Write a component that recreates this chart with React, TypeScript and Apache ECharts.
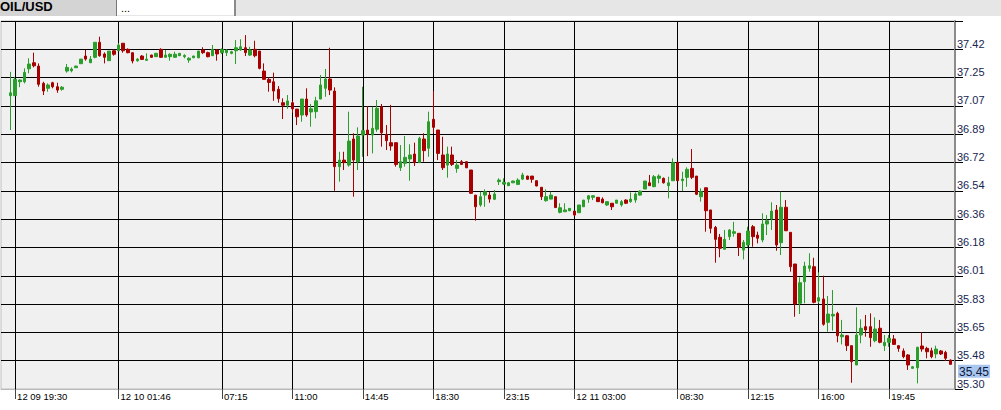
import { useEffect, useRef } from 'react';
import * as echarts from 'echarts';

const symbolName = 'OIL/USD';
const secondTab = '...';

// 15-minute candles: [open, close, low, high]
const candles: number[][] = [
  [37.134, 37.152, 36.919, 37.283], [37.134, 37.236, 37.134, 37.252], [37.221, 37.232, 37.187, 37.236],
  [37.221, 37.280, 37.211, 37.305], [37.302, 37.332, 37.274, 37.368], [37.340, 37.321, 37.311, 37.403],
  [37.319, 37.205, 37.190, 37.336], [37.211, 37.163, 37.138, 37.221], [37.180, 37.201, 37.159, 37.211],
  [37.215, 37.190, 37.180, 37.221], [37.190, 37.169, 37.152, 37.215], [37.174, 37.187, 37.165, 37.194],
  [37.288, 37.311, 37.278, 37.332], [37.290, 37.301, 37.280, 37.311], [37.309, 37.319, 37.307, 37.322],
  [37.334, 37.363, 37.334, 37.363], [37.382, 37.363, 37.353, 37.420], [37.340, 37.363, 37.340, 37.382],
  [37.374, 37.468, 37.368, 37.468], [37.468, 37.384, 37.378, 37.503], [37.395, 37.374, 37.336, 37.405],
  [37.353, 37.413, 37.353, 37.413], [37.415, 37.393, 37.384, 37.424], [37.415, 37.451, 37.415, 37.462],
  [37.462, 37.415, 37.403, 37.462], [37.424, 37.403, 37.399, 37.430], [37.403, 37.351, 37.336, 37.403],
  [37.353, 37.363, 37.346, 37.368], [37.382, 37.361, 37.357, 37.388], [37.355, 37.363, 37.353, 37.399],
  [37.388, 37.374, 37.371, 37.390], [37.378, 37.399, 37.376, 37.401], [37.424, 37.374, 37.370, 37.430],
  [37.374, 37.388, 37.374, 37.420], [37.378, 37.393, 37.353, 37.399], [37.374, 37.393, 37.371, 37.409],
  [37.384, 37.399, 37.382, 37.401], [37.378, 37.386, 37.368, 37.393], [37.357, 37.368, 37.340, 37.374],
  [37.371, 37.382, 37.370, 37.384], [37.371, 37.413, 37.368, 37.415], [37.420, 37.403, 37.395, 37.437],
  [37.403, 37.378, 37.374, 37.409], [37.384, 37.424, 37.384, 37.451], [37.420, 37.395, 37.353, 37.424],
  [37.403, 37.424, 37.395, 37.430], [37.403, 37.420, 37.382, 37.424], [37.399, 37.409, 37.393, 37.415],
  [37.415, 37.434, 37.332, 37.482], [37.420, 37.440, 37.415, 37.487], [37.434, 37.403, 37.382, 37.513],
  [37.388, 37.420, 37.382, 37.440], [37.424, 37.384, 37.374, 37.478], [37.413, 37.305, 37.299, 37.413],
  [37.288, 37.236, 37.232, 37.336], [37.236, 37.217, 37.159, 37.249], [37.221, 37.163, 37.102, 37.278],
  [37.174, 37.115, 37.090, 37.194], [37.090, 37.074, 36.988, 37.117], [37.074, 37.101, 37.052, 37.138],
  [37.090, 37.052, 37.027, 37.101], [37.050, 37.002, 36.950, 37.050], [37.013, 37.113, 36.971, 37.113],
  [37.113, 37.013, 37.002, 37.180], [37.032, 37.052, 36.940, 37.082], [37.034, 37.102, 36.992, 37.127],
  [37.113, 37.201, 37.113, 37.263], [37.180, 37.238, 37.127, 37.301], [37.238, 37.169, 37.138, 37.434],
  [37.163, 36.690, 36.539, 37.186], [36.690, 36.731, 36.596, 36.783], [36.731, 36.715, 36.669, 36.783],
  [36.700, 36.850, 36.690, 37.034], [36.863, 36.731, 36.502, 36.899], [36.721, 36.882, 36.669, 36.936],
  [36.888, 36.915, 36.752, 37.190], [36.919, 36.892, 36.756, 37.069], [36.888, 36.930, 36.773, 37.065],
  [36.924, 37.055, 36.908, 37.107], [37.065, 36.902, 36.815, 37.082], [36.892, 36.852, 36.794, 36.950],
  [36.840, 36.819, 36.790, 37.076], [36.840, 36.704, 36.690, 36.840], [36.683, 36.721, 36.663, 36.825],
  [36.711, 36.748, 36.690, 36.882], [36.738, 36.763, 36.602, 36.830], [36.769, 36.715, 36.694, 36.840],
  [36.715, 36.867, 36.715, 36.877], [36.863, 36.790, 36.721, 36.899], [36.805, 36.971, 36.752, 37.034],
  [36.986, 36.936, 36.899, 37.163], [36.919, 36.773, 36.731, 36.919], [36.763, 36.683, 36.669, 36.877],
  [36.700, 36.769, 36.621, 36.815], [36.763, 36.704, 36.694, 36.815], [36.679, 36.700, 36.652, 36.731],
  [36.721, 36.704, 36.700, 36.731], [36.721, 36.683, 36.681, 36.721], [36.669, 36.523, 36.520, 36.669],
  [36.512, 36.439, 36.352, 36.512], [36.450, 36.502, 36.439, 36.533], [36.512, 36.533, 36.439, 36.548],
  [36.512, 36.487, 36.464, 36.533], [36.486, 36.519, 36.481, 36.544], [36.596, 36.606, 36.575, 36.617],
  [36.581, 36.592, 36.575, 36.617], [36.571, 36.589, 36.569, 36.594], [36.589, 36.600, 36.587, 36.603],
  [36.579, 36.606, 36.575, 36.617], [36.612, 36.638, 36.606, 36.652], [36.631, 36.611, 36.609, 36.633],
  [36.631, 36.611, 36.589, 36.631], [36.602, 36.569, 36.567, 36.603], [36.561, 36.502, 36.481, 36.561],
  [36.477, 36.502, 36.471, 36.548], [36.487, 36.512, 36.486, 36.533], [36.502, 36.434, 36.431, 36.502],
  [36.404, 36.433, 36.398, 36.461], [36.408, 36.419, 36.408, 36.461], [36.414, 36.429, 36.412, 36.431],
  [36.412, 36.387, 36.381, 36.412], [36.402, 36.450, 36.402, 36.450], [36.439, 36.481, 36.439, 36.481],
  [36.487, 36.508, 36.464, 36.512], [36.498, 36.508, 36.481, 36.512], [36.498, 36.471, 36.469, 36.500],
  [36.487, 36.464, 36.461, 36.498], [36.450, 36.471, 36.444, 36.471], [36.461, 36.439, 36.419, 36.461],
  [36.461, 36.481, 36.461, 36.481], [36.450, 36.471, 36.439, 36.481], [36.481, 36.461, 36.456, 36.486],
  [36.471, 36.487, 36.464, 36.529], [36.481, 36.519, 36.464, 36.529], [36.512, 36.537, 36.509, 36.541],
  [36.550, 36.600, 36.550, 36.600], [36.589, 36.571, 36.571, 36.638], [36.565, 36.627, 36.561, 36.638],
  [36.617, 36.631, 36.586, 36.642], [36.617, 36.589, 36.584, 36.622], [36.571, 36.589, 36.492, 36.627],
  [36.602, 36.715, 36.602, 36.742], [36.717, 36.602, 36.602, 36.717], [36.602, 36.612, 36.537, 36.658],
  [36.623, 36.673, 36.564, 36.686], [36.679, 36.623, 36.612, 36.800], [36.631, 36.517, 36.512, 36.631],
  [36.502, 36.533, 36.471, 36.554], [36.558, 36.414, 36.283, 36.558], [36.419, 36.304, 36.273, 36.419],
  [36.310, 36.235, 36.089, 36.319], [36.248, 36.179, 36.123, 36.269], [36.173, 36.235, 36.173, 36.294],
  [36.252, 36.294, 36.231, 36.298], [36.273, 36.283, 36.252, 36.345], [36.273, 36.185, 36.131, 36.273],
  [36.168, 36.217, 36.110, 36.231], [36.200, 36.287, 36.189, 36.314], [36.314, 36.252, 36.189, 36.325],
  [36.262, 36.242, 36.210, 36.283], [36.231, 36.331, 36.217, 36.398], [36.331, 36.352, 36.262, 36.387],
  [36.362, 36.412, 36.294, 36.467], [36.419, 36.200, 36.164, 36.450], [36.214, 36.436, 36.137, 36.533],
  [36.436, 36.289, 36.287, 36.481], [36.279, 36.064, 36.033, 36.279], [36.081, 35.831, 35.751, 36.081],
  [35.835, 35.964, 35.768, 35.998], [35.970, 36.068, 35.835, 36.095], [36.054, 36.070, 36.033, 36.148],
  [36.064, 35.841, 35.835, 36.120], [35.849, 35.870, 35.835, 36.029], [35.862, 35.704, 35.695, 36.008],
  [35.716, 35.768, 35.657, 35.881], [35.756, 35.766, 35.664, 35.918], [35.772, 35.632, 35.591, 35.782],
  [35.626, 35.637, 35.578, 35.731], [35.632, 35.570, 35.537, 35.637], [35.570, 35.470, 35.338, 35.570],
  [35.449, 35.637, 35.449, 35.810], [35.637, 35.679, 35.585, 35.735], [35.689, 35.668, 35.626, 35.762],
  [35.689, 35.620, 35.563, 35.772], [35.601, 35.674, 35.591, 35.747], [35.679, 35.591, 35.585, 35.731],
  [35.570, 35.591, 35.537, 35.637], [35.591, 35.616, 35.563, 35.637], [35.612, 35.578, 35.574, 35.637],
  [35.570, 35.553, 35.532, 35.572], [35.537, 35.501, 35.491, 35.553], [35.512, 35.449, 35.418, 35.516],
  [35.428, 35.438, 35.424, 35.443], [35.432, 35.560, 35.334, 35.563], [35.568, 35.549, 35.532, 35.653],
  [35.553, 35.532, 35.491, 35.563], [35.538, 35.501, 35.491, 35.557], [35.518, 35.549, 35.491, 35.570],
  [35.537, 35.518, 35.512, 35.543], [35.528, 35.491, 35.474, 35.538], [35.480, 35.453, 35.451, 35.483],
];

// time labels and the candle (1-based) each one sits on
const tickLabels = ['12 09 19:30', '12 10 01:46', '07:15', '11:00', '14:45', '18:30', '23:15', '12 11 03:00', '08:30', '12:15', '16:00', '19:45'];
const tickCandles = [2, 24, 46, 61, 76, 91, 106, 121, 143, 158, 173, 188];

// price axis
const priceMin = 35.2989;
const priceStep = 0.1771;
const priceSteps = 13;

const LEAD = 2;
const TRAIL = 1;

const FONT = 'Liberation Sans, Arial, sans-serif';

export default function App() {
  const ref = useRef<HTMLDivElement>(null);

  useEffect(() => {
    if (!ref.current) return;
    const chart = echarts.init(ref.current, undefined, { renderer: 'svg' });

    const priceMax = priceMin + priceSteps * priceStep;
    const empty = ['-', '-', '-', '-'];
    const seriesData: any[] = [];
    const categories: string[] = [];
    for (let i = 0; i < LEAD; i++) { seriesData.push(empty); categories.push('p' + i); }
    candles.forEach((c, i) => { seriesData.push(c); categories.push('c' + (i + 1)); });
    for (let i = 0; i < TRAIL; i++) { seriesData.push(empty); categories.push('t' + i); }

    const labelAt = new Map<number, string>();
    tickCandles.forEach((c, i) => labelAt.set(c - 1 + LEAD, tickLabels[i]));
    const isTick = (index: number) => labelAt.has(index);

    const lastClose = candles[candles.length - 1][1];

    const option: any = {
      animation: false,
      backgroundColor: '#ffffff',
      graphic: [
        { type: 'rect', left: 0, top: 0, shape: { width: 1001, height: 16 }, style: { fill: '#e6e6e6' } },
        { type: 'rect', left: 0, top: 0, shape: { width: 116, height: 16 }, style: { fill: '#d4d4d4' } },
        { type: 'rect', left: 117, top: 0, shape: { width: 118, height: 15 }, style: { fill: '#ffffff' } },
        { type: 'rect', left: 116, top: 0, shape: { width: 1, height: 16 }, style: { fill: '#777777' } },
        { type: 'rect', left: 234, top: 0, shape: { width: 2, height: 16 }, style: { fill: '#8a8a8a' } },
        {
          type: 'text', left: 0, top: 0,
          style: { text: symbolName, font: 'bold 13px ' + FONT, fill: '#000000' },
        },
        {
          type: 'text', left: 121, top: 2,
          style: { text: secondTab, font: '11px ' + FONT, fill: '#000000' },
        },
      ],
      grid: {
        left: 1, right: 46, top: 21, bottom: 21,
        show: true, backgroundColor: '#f0f0f0', borderColor: '#bdbdbd', borderWidth: 1,
      },
      xAxis: {
        type: 'category',
        data: categories,
        boundaryGap: false,
        axisLine: { show: true, lineStyle: { color: '#b8b8b8', width: 1 } },
        axisTick: { show: true, interval: isTick, length: 10, lineStyle: { color: '#444444' } },
        axisLabel: {
          interval: isTick,
          formatter: (_v: string, i: number) => labelAt.get(i) || '',
          align: 'left', margin: 2, padding: [0, 0, 0, 2],
          color: '#000000', fontSize: 9.5, fontFamily: FONT,
        },
        splitLine: { show: true, interval: isTick, lineStyle: { color: '#000000', width: 1 } },
      },
      yAxis: {
        type: 'value',
        position: 'right',
        min: priceMin, max: priceMax, interval: priceStep,
        axisLine: { show: true, lineStyle: { color: '#8c8c8c', width: 2 } },
        axisTick: { show: true, length: 8, lineStyle: { color: '#000000' } },
        axisLabel: {
          margin: 2, color: '#172650', fontSize: 11, fontFamily: FONT, verticalAlign: 'bottom',
          showMaxLabel: false,
          formatter: (v: number) => (v > priceMax - priceStep / 2 ? '' : v.toFixed(2)),
        },
        splitLine: { show: true, showMaxLine: false, lineStyle: { color: '#000000', width: 1 } },
      },
      series: [
        {
          type: 'candlestick',
          data: seriesData,
          barWidth: 3,
          clip: false,
          itemStyle: {
            color: '#2a9e2a', color0: '#a80000',
            borderColor: '#2a9e2a', borderColor0: '#a80000', borderWidth: 1,
          },
          markLine: {
            silent: true,
            symbol: 'none',
            lineStyle: { color: 'rgba(0,0,0,0)', width: 1, type: 'solid' },
            label: {
              show: true, position: 'end', distance: 3, verticalAlign: 'top', align: 'left',
              formatter: () => lastClose.toFixed(2),
              backgroundColor: '#a9c6ef', color: '#0c1a40', fontSize: 12, fontFamily: FONT,
              padding: [1, 1, 0, 1],
            },
            data: [{ yAxis: lastClose }],
          },
        },
      ],
    };

    chart.setOption(option);
    return () => chart.dispose();
  }, []);

  return (
    <div style={{ position: 'fixed', left: 0, top: 0, width: 1001, height: 410, background: '#fff' }}>
      <div ref={ref} style={{ width: 1001, height: 410 }} />
    </div>
  );
}
